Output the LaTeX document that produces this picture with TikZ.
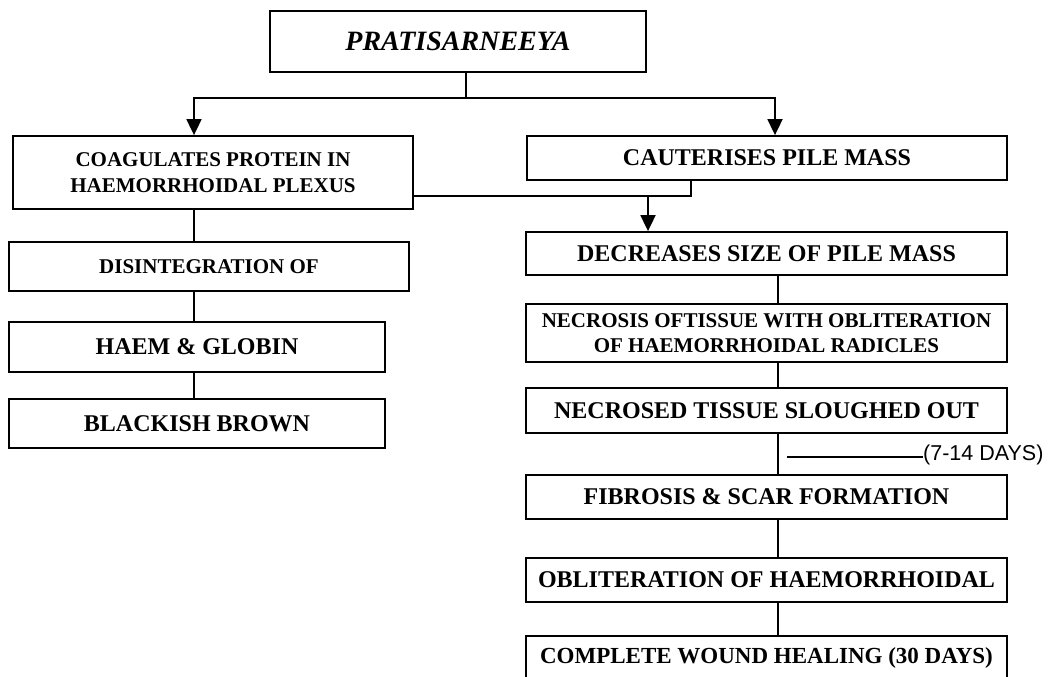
\documentclass[tikz,border=0pt]{standalone}
\usepackage{fontspec}
\setmainfont{Liberation Serif}
\newfontfamily\arialfont{Liberation Sans}
\usetikzlibrary{arrows.meta}
\tikzset{
  box/.style={draw, line width=1.8pt, inner sep=0pt, align=center,
    font=\bfseries\fontsize{24}{28}\selectfont},
  smallbox/.style={box, font=\bfseries\fontsize{21}{25.5}\selectfont},
  conn/.style={line width=1.8pt},
  arr/.style={conn, -{Triangle[length=16pt,width=15pt]}},
}
\begin{document}
\begin{tikzpicture}[x=1pt, y={(0pt,-1pt)}]
\useasboundingbox (0,0) rectangle (1049,677);
% boxes
\node[box, minimum width=376pt, minimum height=61pt,
  font=\bfseries\itshape\fontsize{28}{32}\selectfont] (top) at (458,41.5) {PRATISARNEEYA};
\node[smallbox, minimum width=400pt, minimum height=73pt] (coag) at (213,172.5)
  {COAGULATES PROTEIN IN\\HAEMORRHOIDAL PLEXUS};
\node[box, minimum width=480pt, minimum height=44pt] (caut) at (767,158) {CAUTERISES PILE MASS};
\node[smallbox, minimum width=400pt, minimum height=49pt] (disint) at (209,266.5) {DISINTEGRATION OF};
\node[box, minimum width=376pt, minimum height=50pt] (haem) at (197,347) {HAEM \& GLOBIN};
\node[box, minimum width=376pt, minimum height=49pt] (black) at (197,423.5) {BLACKISH BROWN};
\node[box, minimum width=481pt, minimum height=43pt] (decr) at (766.5,253.5) {DECREASES SIZE OF PILE MASS};
\node[smallbox, minimum width=481pt, minimum height=58pt] (necrosis) at (766.5,333)
  {NECROSIS OFTISSUE WITH OBLITERATION\\OF HAEMORRHOIDAL RADICLES};
\node[box, minimum width=481pt, minimum height=45pt] (necrosed) at (766.5,410.5) {NECROSED TISSUE SLOUGHED OUT};
\node[box, minimum width=481pt, minimum height=44pt] (fibrosis) at (766.5,497) {FIBROSIS \& SCAR FORMATION};
\node[box, minimum width=481pt, minimum height=44pt] (oblit) at (766.5,580) {OBLITERATION OF HAEMORRHOIDAL};
\node[box, minimum width=481pt, minimum height=44pt, font=\bfseries\fontsize{23}{27}\selectfont] (complete) at (766.5,658)
  {COMPLETE WOUND HEALING (30 DAYS)};
\node[anchor=base west, inner sep=0pt, font=\arialfont\fontsize{21.5}{24}\selectfont] (days) at (923,460) {(7-14 DAYS)};
% helper coordinates
\coordinate (j) at (466,98);
\coordinate (lx) at (194,0);
\coordinate (rx) at (775,0);
\coordinate (cx) at (778,0);
\coordinate (m) at (691,196);
\coordinate (k) at (648,196);
\coordinate (d0) at (787,457);
% connectors
\draw[conn] (top.south -| j) -- (j);
\draw[arr] (j) -| (coag.north -| lx);
\draw[arr] (j) -| (caut.north -| rx);
\draw[conn] (caut.south -| m) -- (m) -- (coag.east |- m);
\draw[arr] (k) -- (decr.north -| k);
\draw[conn] (coag.south -| lx) -- (disint.north -| lx);
\draw[conn] (disint.south -| lx) -- (haem.north -| lx);
\draw[conn] (haem.south -| lx) -- (black.north -| lx);
\draw[conn] (decr.south -| cx) -- (necrosis.north -| cx);
\draw[conn] (necrosis.south -| cx) -- (necrosed.north -| cx);
\draw[conn] (necrosed.south -| cx) -- (fibrosis.north -| cx);
\draw[conn] (fibrosis.south -| cx) -- (oblit.north -| cx);
\draw[conn] (oblit.south -| cx) -- (complete.north -| cx);
\draw[conn, line width=1.5pt] (d0) -- (d0 -| days.west);
\end{tikzpicture}
\end{document}
